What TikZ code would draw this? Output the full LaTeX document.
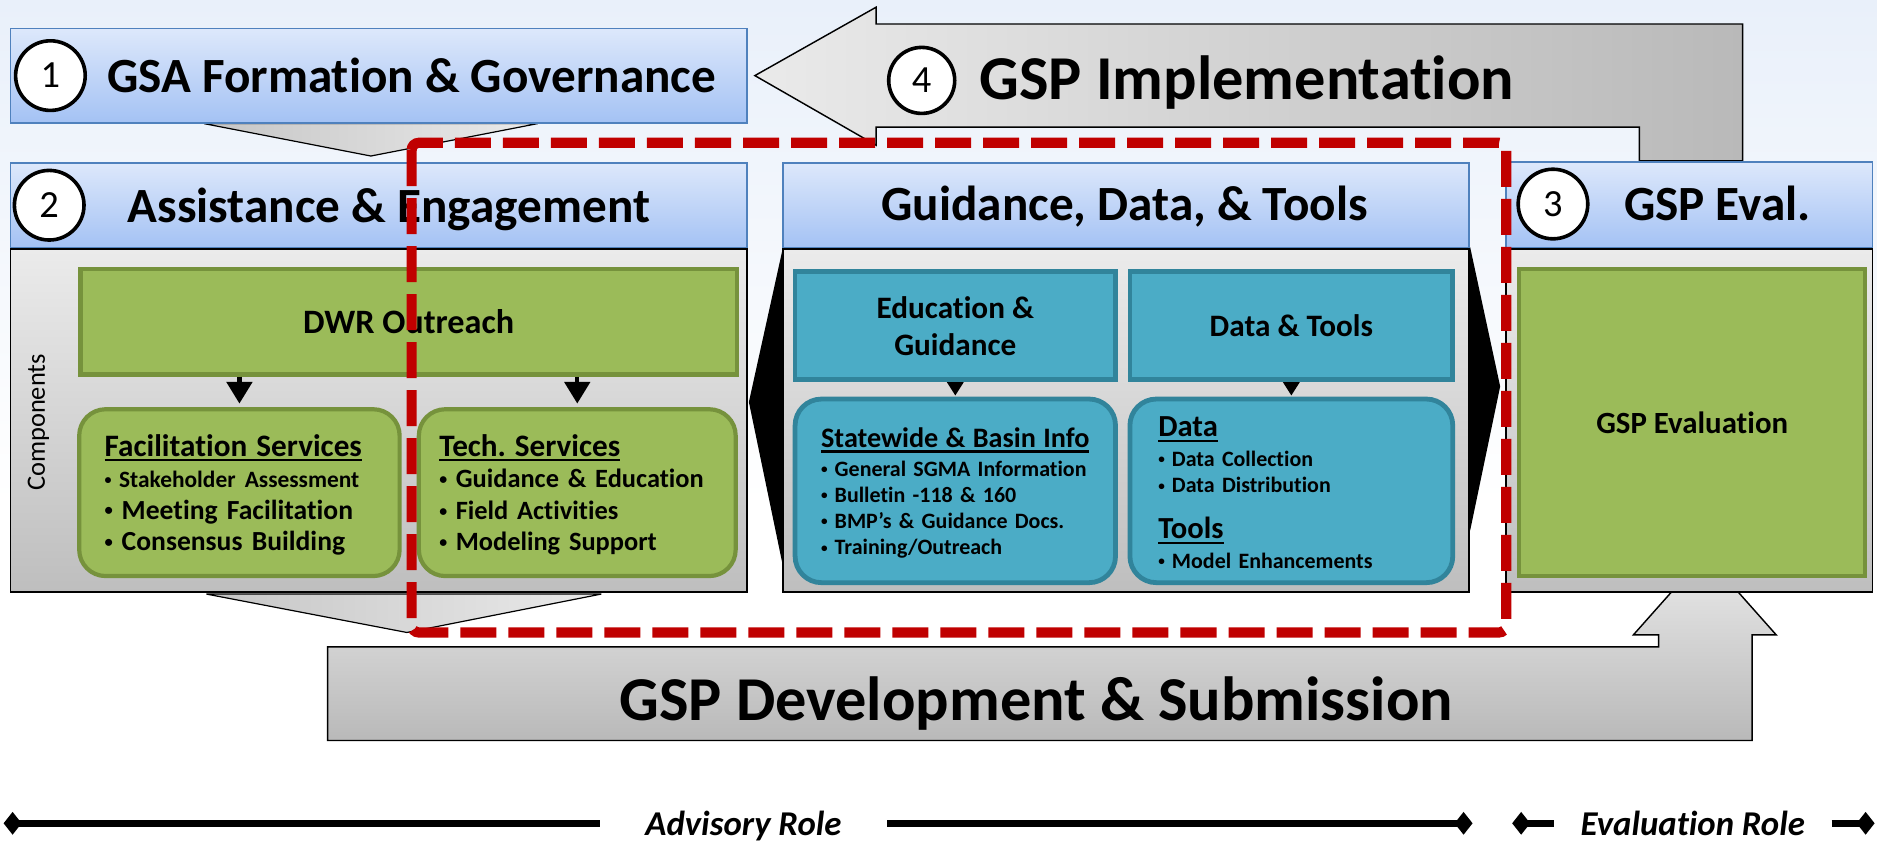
\documentclass[tikz,border=0pt]{standalone}
\usepackage{fontspec}
\usepackage{graphicx}
\setmainfont{Carlito}[RawFeature={-liga;-clig}]
\usetikzlibrary{arrows.meta}
\definecolor{bgtop}{HTML}{E9F0FA}
\definecolor{hdrtop}{HTML}{DDE8FB}
\definecolor{hdrbot}{HTML}{A4C2F4}
\definecolor{hdrline}{HTML}{4F81BD}
\definecolor{bodytop}{HTML}{EBEBEB}
\definecolor{bodybot}{HTML}{BEBEBE}
\definecolor{grn}{HTML}{9BBB59}
\definecolor{grnline}{HTML}{76923C}
\definecolor{tealfill}{HTML}{4BACC6}
\definecolor{tealline}{HTML}{31849B}
\definecolor{dashred}{HTML}{C00000}
\definecolor{arrlight}{HTML}{EAEAEA}
\definecolor{arrdark}{HTML}{B9B9B9}
\definecolor{chevdark}{HTML}{C6C6C6}
\newcommand{\fsz}[2]{\fontsize{#1}{#2}\selectfont}
\newcommand{\ulbar}[1]{\leavevmode\setbox0\hbox{#1}\rlap{\rule[-4.5pt]{\wd0}{2.2pt}}\box0}
\newcommand{\bul}{\raisebox{0.12em}{\scalebox{0.6}{\textbullet}}\hspace{0.32em}}
\frenchspacing
\tikzset{
	hdr/.style={draw=hdrline, line width=1.5pt, top color=hdrtop, bottom color=hdrbot, inner sep=0pt},
	panel/.style={draw=black, line width=1.5pt, top color=bodytop, bottom color=bodybot, inner sep=0pt},
	num/.style={circle, draw=black, line width=3pt, fill=white, minimum size=58pt, inner sep=0pt, font=\fsz{32}{34}},
	ttl/.style={anchor=base, inner sep=0pt, font=\bfseries\fsz{41}{48}},
	grnbox/.style={draw=grnline, line width=3.5pt, fill=grn, inner sep=0pt, font=\bfseries\fsz{28.5}{32}},
	tealbox/.style={draw=tealline, line width=4pt, fill=tealfill, inner sep=0pt, align=center, font=\bfseries\fsz{26}{31}},
	list/.style={anchor=base west, inner sep=0pt, align=left, text width=#1},
	chev/.style={draw=black, line width=1pt, left color=chevdark, right color=arrlight},
	bigarrow/.style={draw=black, line width=1.2pt},
	role/.style={anchor=base, inner ysep=0pt, font=\bfseries\itshape\fsz{29}{32}},
	roleline/.style={line width=5.5pt},
	roletip/.tip={Diamond[length=15pt,width=19pt]}
}
\begin{document}
\begin{tikzpicture}[x=1pt, y=-1pt]
	\useasboundingbox (0,0) rectangle (1564,701);
	\fill[top color=bgtop, bottom color=white] (0,0) rectangle (1564,420);
	\fill[white] (0,420) rectangle (1564,701);

	% (4) implementation, bent back to the left
	\draw[bigarrow, left color=arrlight, right color=arrdark]
		(629,63) -- (730,6) -- (730,20) -- (1452,20) -- (1452,134) -- (1366,134)
		-- (1366,106) -- (730,106) -- (730,121) -- cycle;
	\node[num, minimum size=55pt] (n4) at (768,67) {4};
	\node[ttl, font=\bfseries\fsz{52}{60}] (impl) at (1039,83) {GSP Implementation};

	% development, up into the evaluation
	\draw[bigarrow, top color=arrlight, bottom color=arrdark]
		(273,539) -- (1382,539) -- (1382,529) -- (1361,529) -- (1420.5,462)
		-- (1480,529) -- (1460,529) -- (1460,617) -- (273,617) -- cycle;
	\node[ttl, font=\bfseries\fsz{52}{60}] (dev) at (863.5,600) {GSP Development \& Submission};

	% chevrons
	\filldraw[chev] (170,103) -- (309,130) -- (448,103) -- cycle;
	\filldraw[chev] (172,495) -- (339,527) -- (501,495) -- cycle;
	\fill (652,208) -- (624,335) -- (652,470) -- cycle;
	\fill (1225,206) -- (1250,322) -- (1225,442) -- cycle;

	% panels
	\node[panel, minimum width=613.5pt, minimum height=285.5pt] (aebody) at (315.5,350.5) {};
	\node[panel, minimum width=571.5pt, minimum height=285.5pt] (gdtbody) at (938.5,350.5) {};
	\node[panel, minimum width=305.5pt, minimum height=285.5pt] (evbody) at (1407.5,350.5) {};
	\node[hdr, minimum width=613.5pt, minimum height=78.5pt] (gsahdr) at (315.5,63) {};
	\node[hdr, minimum width=613.5pt, minimum height=70.5pt] (aehdr) at (315.5,171) {};
	\node[hdr, minimum width=571.5pt, minimum height=70.5pt] (gdthdr) at (938.5,171) {};
	\node[hdr, minimum width=305.5pt, minimum height=71.5pt] (evhdr) at (1407.5,170.5) {};

	\node[num] (n1) at (42,63) {1};
	\node[ttl] (gsa) at (343,77) {GSA Formation \& Governance};
	\node[num] (n2) at (41,171) {2};
	\node[ttl] (ae) at (324,185) {Assistance \& Engagement};
	\node[ttl] (gdt) at (937,184) {Guidance, Data, \& Tools};
	\node[num] (n3) at (1294,170) {3};
	\node[ttl] (ev) at (1431,184) {GSP Eval.};

	% (2) assistance & engagement
	\node[rotate=90, font=\fsz{22}{26}] (comp) at (32,352) {Components};
	\node[grnbox, minimum width=547pt, minimum height=88pt] (dwr) at (340.5,268) {DWR Outreach};
	\node[grnbox, rounded corners=22pt, minimum width=267pt, minimum height=139pt] (fac) at (199.5,410.5) {};
	\node[grnbox, rounded corners=22pt, minimum width=264pt, minimum height=139pt] (tech) at (481,410.5) {};
	\draw[line width=3.5pt, -{Triangle[length=18pt,width=21pt]}] (dwr.south -| fac.north) -- ([yshift=3pt]fac.north);
	\draw[line width=3.5pt, -{Triangle[length=18pt,width=21pt]}] (dwr.south -| tech.north) -- ([yshift=3pt]tech.north);
	\node[list=240pt, font=\bfseries\fsz{23}{26.3}] (facl) at (87,380)
		{{\fsz{26}{26.3}\ulbar{Facilitation Services}}\\
		{\fsz{19.5}{26.3}\bul Stakeholder Assessment}\\
		\bul Meeting Facilitation\\
		\bul Consensus Building};
	\node[list=240pt, font=\bfseries\fsz{22}{26.3}] (techl) at (366,380)
		{{\fsz{26}{26.3}\ulbar{Tech. Services}}\\
		\bul Guidance \& Education\\
		\bul Field Activities\\
		\bul Modeling Support};

	% guidance, data & tools
	\node[tealbox, minimum width=267pt, minimum height=90pt] (edu) at (796,271.5) {Education \&\\Guidance};
	\node[tealbox, minimum width=269pt, minimum height=90pt] (dnt) at (1076,271.5) {Data \& Tools};
	\node[tealbox, rounded corners=22pt, minimum width=267pt, minimum height=153pt] (swb) at (796,409) {};
	\node[tealbox, rounded corners=22pt, minimum width=269pt, minimum height=153pt] (dtl) at (1076,409) {};
	\fill (edu.south) ++(-7,0) -- ++(14,0) -- ([yshift=1pt]swb.north) -- cycle;
	\fill (dnt.south) ++(-7,0) -- ++(14,0) -- ([yshift=1pt]dtl.north) -- cycle;
	\node[list=240pt, font=\bfseries\fsz{18.3}{21.8}] (swbl) at (684,372.8)
		{{\fsz{23.5}{21.8}\ulbar{Statewide \& Basin Info}}\\[2.2pt]
		\bul General SGMA Information\\
		\bul Bulletin -118 \& 160\\
		\bul BMP’s \& Guidance Docs.\\
		\bul Training/Outreach};
	\node[list=230pt, font=\bfseries\fsz{18.3}{22.3}] (dtll) at (965,364)
		{{\fsz{25.5}{22.3}\ulbar{Data}}\\[2pt]
		\bul Data Collection\\
		\bul Data Distribution\\[16pt]
		{\fsz{25.5}{22.3}\ulbar{Tools}}\\[2.3pt]
		\bul Model Enhancements};

	% (3) evaluation
	\node[grnbox, minimum width=288pt, minimum height=256pt, font=\bfseries\fsz{25.7}{30}] (gspev) at (1410,352) {GSP Evaluation};

	% advisory scope
	\draw[dashred, line width=8.5pt, dash pattern=on 30pt off 10pt, rounded corners=6pt] (343,119) rectangle (1255,527);

	% roles
	\coordinate (advl) at (3,686);
	\coordinate (advr) at (1227,686);
	\coordinate (evl) at (1260,686);
	\coordinate (evr) at (1562,686);
	\node[role, inner xsep=38pt] (adv) at (619.5,696) {Advisory Role};
	\node[role, inner xsep=22pt] (evrole) at (1410.5,696) {Evaluation Role};
	\draw[roleline, roletip-] (advl) -- (advl -| adv.west);
	\draw[roleline, -roletip] (advl -| adv.east) -- (advr);
	\draw[roleline, roletip-] (evl) -- (evl -| evrole.west);
	\draw[roleline, -roletip] (evl -| evrole.east) -- (evr);
\end{tikzpicture}
\end{document}
